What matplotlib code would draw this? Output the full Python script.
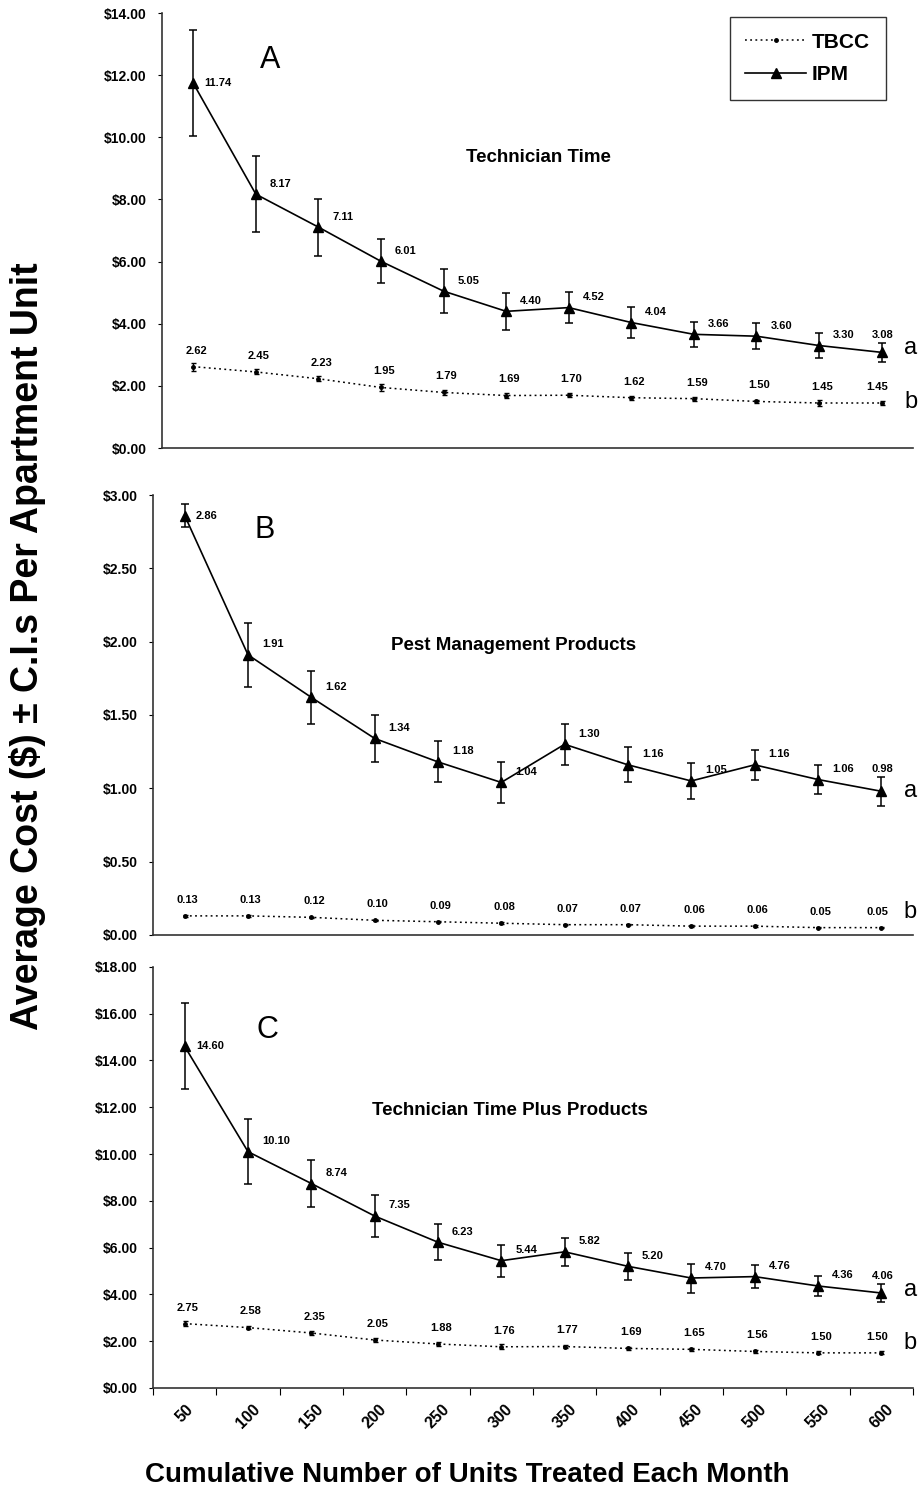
import matplotlib
matplotlib.use('Agg')
import matplotlib.pyplot as plt
from matplotlib.ticker import FuncFormatter, MultipleLocator
import numpy as np

units = [50, 100, 150, 200, 250, 300, 350, 400, 450, 500, 550, 600]

# A - Technician Time
tech_ipm = [11.74, 8.17, 7.11, 6.01, 5.05, 4.40, 4.52, 4.04, 3.66, 3.60, 3.30, 3.08]
tech_ipm_ci = [1.70, 1.22, 0.92, 0.71, 0.70, 0.60, 0.51, 0.50, 0.41, 0.41, 0.40, 0.31]
tech_tbcc = [2.62, 2.45, 2.23, 1.95, 1.79, 1.69, 1.70, 1.62, 1.59, 1.50, 1.45, 1.45]
tech_tbcc_ci = [0.13, 0.08, 0.08, 0.10, 0.08, 0.08, 0.07, 0.06, 0.06, 0.06, 0.09, 0.05]

# B - Pest Management Products
prod_ipm = [2.86, 1.91, 1.62, 1.34, 1.18, 1.04, 1.30, 1.16, 1.05, 1.16, 1.06, 0.98]
prod_ipm_ci = [0.08, 0.22, 0.18, 0.16, 0.14, 0.14, 0.14, 0.12, 0.12, 0.10, 0.10, 0.10]
prod_tbcc = [0.13, 0.13, 0.12, 0.10, 0.09, 0.08, 0.07, 0.07, 0.06, 0.06, 0.05, 0.05]
prod_tbcc_ci = [0.005, 0.005, 0.005, 0.005, 0.005, 0.005, 0.005, 0.005, 0.005, 0.005, 0.005, 0.005]

# C - Technician Time Plus Products
total_ipm = [14.60, 10.10, 8.74, 7.35, 6.23, 5.44, 5.82, 5.20, 4.70, 4.76, 4.36, 4.06]
total_ipm_ci = [1.84, 1.40, 1.00, 0.88, 0.78, 0.69, 0.60, 0.59, 0.62, 0.49, 0.41, 0.40]
total_tbcc = [2.75, 2.58, 2.35, 2.05, 1.88, 1.76, 1.77, 1.69, 1.65, 1.56, 1.50, 1.50]
total_tbcc_ci = [0.12, 0.08, 0.08, 0.10, 0.10, 0.10, 0.08, 0.06, 0.06, 0.07, 0.06, 0.06]

plt.rcParams['font.family'] = ['Liberation Sans', 'DejaVu Sans']

fig = plt.figure(figsize=(9.23, 15), dpi=100)

panels = [
    # rect, ipm, ipm ci, tbcc, tbcc ci, ymax, step, letter, letter pos, title, title pos, a/b offsets
    ([0.1755, 0.7013, 0.8135, 0.29], tech_ipm, tech_ipm_ci, tech_tbcc, tech_tbcc_ci,
     14, 2, 'A', (0.144, 0.892), 'Technician Time', (0.501, 0.667), (3, 1)),
    ([0.1658, 0.3767, 0.8232, 0.2933], prod_ipm, prod_ipm_ci, prod_tbcc, prod_tbcc_ci,
     3, 0.5, 'B', (0.147, 0.920), 'Pest Management Products', (0.475, 0.659), (0, 11)),
    ([0.1658, 0.0747, 0.8232, 0.2807], total_ipm, total_ipm_ci, total_tbcc, total_tbcc_ci,
     18, 2, 'C', (0.150, 0.850), 'Technician Time Plus Products', (0.470, 0.660), (2, 7)),
]

x = np.arange(len(units))
axes = []
for i, (rect, ipm, ipm_ci, tbcc, tbcc_ci, ymax, step, letter, lpos, title, tpos, ab) in enumerate(panels):
    ax = fig.add_axes(rect)
    axes.append(ax)

    ax.errorbar(x, tbcc, yerr=tbcc_ci, fmt='none', ecolor='black', elinewidth=1.0,
                capsize=1.8, capthick=1.0)
    ax.plot(x, tbcc, linestyle=(0, (1.2, 2.2)), color='black', linewidth=1.1,
            marker='o', markersize=2.5, label='TBCC')
    ax.errorbar(x, ipm, yerr=ipm_ci, fmt='none', ecolor='black', elinewidth=1.1,
                capsize=3, capthick=1.1)
    ax.plot(x, ipm, linestyle='-', color='black', linewidth=1.2,
            marker='^', markersize=7, label='IPM')

    for k, (xi, v) in enumerate(zip(x, ipm)):
        if k == len(x) - 1:
            # last label sits above the error bar, next to the letter
            ax.annotate('%.2f' % v, (xi, v + ipm_ci[k]), xytext=(1, 2),
                        textcoords='offset points', ha='center', va='bottom',
                        fontsize=8, fontweight='bold')
        elif k == 0:
            ax.annotate('%.2f' % v, (xi, v), xytext=(8, 0), textcoords='offset points',
                        ha='left', va='center', fontsize=8, fontweight='bold')
        else:
            ax.annotate('%.2f' % v, (xi, v), xytext=(10, 4), textcoords='offset points',
                        ha='left', va='bottom', fontsize=8, fontweight='bold')
    for k, (xi, v) in enumerate(zip(x, tbcc)):
        dx = -3 if k == len(x) - 1 else 2
        ax.annotate('%.2f' % v, (xi, v), xytext=(dx, 8), textcoords='offset points',
                    ha='center', va='bottom', fontsize=8, fontweight='bold')

    ax.annotate('a', (x[-1], ipm[-1]), xytext=(21, ab[0]), textcoords='offset points',
                ha='center', va='center', fontsize=17)
    ax.annotate('b', (x[-1], tbcc[-1]), xytext=(21, ab[1]), textcoords='offset points',
                ha='center', va='center', fontsize=17)

    ax.text(lpos[0], lpos[1], letter, transform=ax.transAxes, ha='center', va='center',
            fontsize=22)
    ax.text(tpos[0], tpos[1], title, transform=ax.transAxes, ha='center', va='center',
            fontsize=13.5, fontweight='bold')

    ax.set_xlim(-0.5, len(units) - 0.5)
    ax.set_ylim(0, ymax)
    ax.yaxis.set_major_locator(MultipleLocator(step))
    ax.yaxis.set_major_formatter(FuncFormatter(lambda v, p: r'\$%.2f' % v))
    for lab in ax.get_yticklabels():
        lab.set_fontweight('bold')
    ax.tick_params(axis='y', length=3, width=0.8, pad=8, labelsize=10)

    for side in ['top', 'right']:
        ax.spines[side].set_visible(False)
    for side in ['left', 'bottom']:
        ax.spines[side].set_color('#333333')
        ax.spines[side].set_linewidth(1.2)

    if i < 2:
        ax.set_xticks([])
    else:
        ax.set_xticks(x)
        ax.set_xticklabels([str(u) for u in units], rotation=45, ha='center',
                           fontweight='bold', fontsize=11.5)
        ax.set_xticks(np.arange(len(units) + 1) - 0.5, minor=True)
        ax.tick_params(axis='x', which='major', length=0, pad=10)
        ax.tick_params(axis='x', which='minor', length=5, width=0.8)

leg = axes[0].legend(loc='upper right', bbox_to_anchor=(0.964, 0.991),
                     prop={'weight': 'bold', 'size': 15}, frameon=True, fancybox=False,
                     edgecolor='black', handlelength=2.9, handletextpad=0.3,
                     labelspacing=0.65, borderpad=0.75, borderaxespad=0)
leg.get_frame().set_linewidth(1.0)

fig.text(0.506, 0.0167, 'Cumulative Number of Units Treated Each Month', ha='center',
         va='center', fontsize=20, fontweight='bold')

fig.text(0.03, 0.569, r'Average Cost (\$) ± C.I.s Per Apartment Unit', rotation=90,
         ha='center', va='center', fontsize=27, fontweight='bold')

fig.savefig('out.png', dpi=100, facecolor='white')
